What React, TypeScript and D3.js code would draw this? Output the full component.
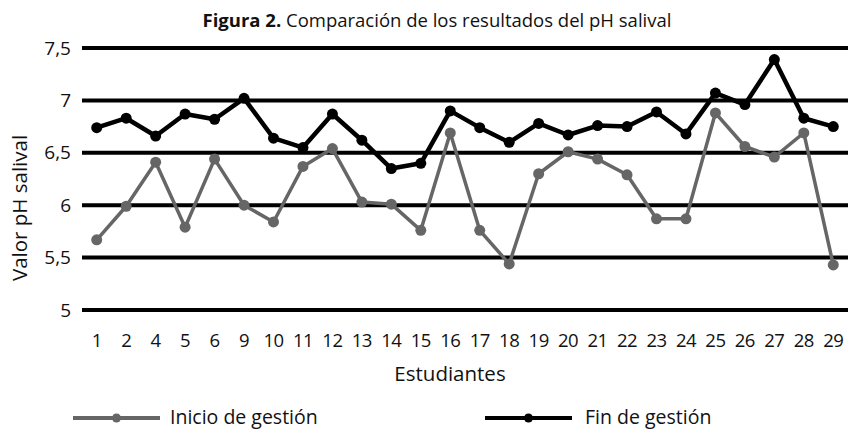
import { useEffect, useRef } from "react";
import * as d3 from "d3";

const estudiantes = ["1", "2", "4", "5", "6", "9", "10", "11", "12", "13", "14", "15", "16", "17", "18", "19", "20", "21", "22", "23", "24", "25", "26", "27", "28", "29"];
const inicioGestion = [5.67, 5.99, 6.41, 5.79, 6.44, 6.0, 5.84, 6.37, 6.54, 6.03, 6.01, 5.76, 6.69, 5.76, 5.44, 6.3, 6.51, 6.44, 6.29, 5.87, 5.87, 6.88, 6.56, 6.46, 6.69, 5.43];
const finGestion = [6.74, 6.83, 6.66, 6.87, 6.82, 7.02, 6.64, 6.55, 6.87, 6.62, 6.35, 6.4, 6.9, 6.74, 6.6, 6.78, 6.67, 6.76, 6.75, 6.89, 6.68, 7.07, 6.96, 7.39, 6.83, 6.75];
const yTicks = [5, 5.5, 6, 6.5, 7, 7.5];

const FONT = "'Open Sans', sans-serif";

const App = () => {
    const chartRef = useRef<SVGSVGElement>(null);

    useEffect(() => {
        const svg = d3.select(chartRef.current);
        svg.selectAll("*").remove(); // Clear previous render

        const width = 848;
        const height = 430;
        const margin = { top: 48, right: 0, bottom: 120, left: 82 };

        svg.attr("width", width).attr("height", height);

        const x = d3
            .scaleBand()
            .domain(estudiantes)
            .range([margin.left, width - margin.right]);

        const y = d3
            .scaleLinear()
            .domain([5, 7.5])
            .range([height - margin.bottom, margin.top]);

        // Title
        const title = svg
            .append("text")
            .attr("x", 437)
            .attr("y", 27)
            .attr("text-anchor", "middle")
            .attr("font-family", FONT)
            .attr("font-size", 18.5)
            .attr("fill", "#111");
        title.append("tspan").attr("font-weight", "bold").text("Figura 2.");
        title.append("tspan").text(" Comparación de los resultados del pH salival");

        // Grid lines
        svg
            .append("g")
            .selectAll("line")
            .data(yTicks)
            .join("line")
            .attr("x1", margin.left)
            .attr("x2", width - margin.right)
            .attr("y1", (d) => y(d))
            .attr("y2", (d) => y(d))
            .attr("stroke", "#000")
            .attr("stroke-width", 4);

        // Y tick labels
        svg
            .append("g")
            .selectAll("text")
            .data(yTicks)
            .join("text")
            .attr("x", 71)
            .attr("y", (d) => y(d))
            .attr("dy", "0.35em")
            .attr("text-anchor", "end")
            .attr("font-family", FONT)
            .attr("font-size", 19)
            .attr("fill", "#111")
            .text((d) => String(d).replace(".", ","));

        // X tick labels
        svg
            .append("g")
            .selectAll("text")
            .data(estudiantes)
            .join("text")
            .attr("x", (d) => x(d)! + x.bandwidth() / 2)
            .attr("y", 347)
            .attr("text-anchor", "middle")
            .attr("font-family", FONT)
            .attr("font-size", 18.5)
            .attr("letter-spacing", -0.5)
            .attr("fill", "#111")
            .text((d) => d);

        // Axis titles
        svg
            .append("text")
            .attr("x", 450)
            .attr("y", 381)
            .attr("text-anchor", "middle")
            .attr("font-family", FONT)
            .attr("font-size", 20.5)
            .attr("fill", "#111")
            .text("Estudiantes");

        svg
            .append("text")
            .attr("transform", "translate(27,208) rotate(-90)")
            .attr("text-anchor", "middle")
            .attr("font-family", FONT)
            .attr("font-size", 20.5)
            .attr("fill", "#111")
            .text("Valor pH salival");

        const series = [
            { name: "Inicio de gestión", values: inicioGestion, color: "#666666", width: 3.5, r: 5.5 },
            { name: "Fin de gestión", values: finGestion, color: "#000000", width: 4.5, r: 5.5 },
        ];

        const line = d3
            .line<number>()
            .x((_, i) => x(estudiantes[i])! + x.bandwidth() / 2)
            .y((d) => y(d));

        series.forEach((s) => {
            svg
                .append("path")
                .datum(s.values)
                .attr("fill", "none")
                .attr("stroke", s.color)
                .attr("stroke-width", s.width)
                .attr("stroke-linejoin", "round")
                .attr("d", line);

            svg
                .append("g")
                .selectAll("circle")
                .data(s.values)
                .join("circle")
                .attr("cx", (_, i) => x(estudiantes[i])! + x.bandwidth() / 2)
                .attr("cy", (d) => y(d))
                .attr("r", s.r)
                .attr("fill", s.color);
        });

        // Legend
        const legendPos = [
            { x1: 73, x2: 160, text: 170 },
            { x1: 485, x2: 572, text: 585 },
        ];
        series.forEach((s, i) => {
            const p = legendPos[i];
            const g = svg.append("g");
            g.append("line")
                .attr("x1", p.x1)
                .attr("x2", p.x2)
                .attr("y1", 418)
                .attr("y2", 418)
                .attr("stroke", s.color)
                .attr("stroke-width", 4);
            g.append("circle")
                .attr("cx", (p.x1 + p.x2) / 2)
                .attr("cy", 418)
                .attr("r", 4.5)
                .attr("fill", s.color);
            g.append("text")
                .attr("x", p.text)
                .attr("y", 424)
                .attr("font-family", FONT)
                .attr("font-size", 19.5)
                .attr("fill", "#111")
                .text(s.name);
        });
    }, []);

    return (
        <div style={{ position: "absolute", left: 0, top: 0 }}>
            <svg ref={chartRef} style={{ display: "block" }}></svg>
        </div>
    );
};

export default App;
